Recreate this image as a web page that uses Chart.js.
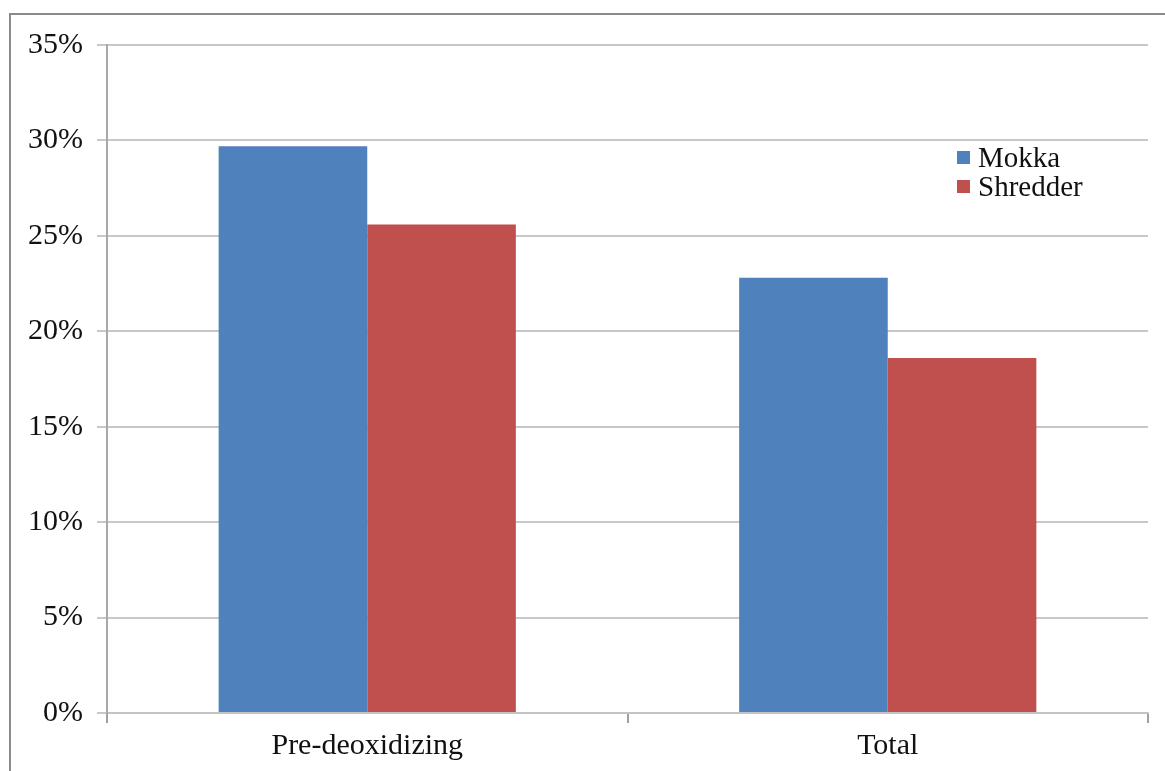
<!DOCTYPE html>
<html>
<head>
<meta charset="utf-8">
<script src="https://cdn.jsdelivr.net/npm/chart.js@4"></script>
<style>
    html, body { margin: 0; padding: 0; background: #fff; overflow: hidden; }
    #marco { position: absolute; left: 0; top: 0; width: 1165px; height: 771px; }
    #borde { position: absolute; left: 9px; top: 13px; width: 1300px; height: 900px; border: 2px solid #8a8a8a; }
    #leyenda { position: absolute; left: 957px; top: 143px; font-family: 'Liberation Serif', serif; font-size: 29px; color: #111; line-height: 29px; }
    #leyenda .item { display: flex; align-items: center; }
    #leyenda .caja { width: 13px; height: 13px; margin-right: 8px; }
</style>
</head>
<body>
<div id="marco">
    <div id="borde"></div>
    <canvas id="grafico" width="1165" height="771"></canvas>
    <div id="leyenda"></div>
</div>
<script>
const categorias = ['Pre-deoxidizing', 'Total'];
const series = ['Mokka', 'Shredder'];
const valoresMokka = [29.7, 22.8];
const valoresShredder = [25.6, 18.6];
const colores = ['#4F81BD', '#C0504D'];
const ejeY = { min: 0, max: 35, paso: 5 };

const fuente = { family: "'Liberation Serif', serif", size: 30 };

const ctx = document.getElementById('grafico').getContext('2d');
const miGrafico = new Chart(ctx, {
    type: 'bar',
    data: {
        labels: categorias,
        datasets: [
            { label: series[0], data: valoresMokka, backgroundColor: colores[0] },
            { label: series[1], data: valoresShredder, backgroundColor: colores[1] }
        ]
    },
    options: {
        responsive: false,
        animation: false,
        devicePixelRatio: 1,
        categoryPercentage: 0.571,
        barPercentage: 1,
        layout: { padding: { left: 0, top: 45, right: 17, bottom: 0 } },
        plugins: {
            legend: { display: false },
            tooltip: { enabled: false }
        },
        scales: {
            x: {
                afterFit: function(escala) { escala.height = 58; },
                grid: {
                    drawOnChartArea: false,
                    drawTicks: true,
                    tickLength: 10,
                    color: '#a0a0a0',
                    lineWidth: 2
                },
                border: { display: true, color: '#c4c4c4', width: 2 },
                ticks: { color: '#111', font: fuente, padding: 5 }
            },
            y: {
                min: ejeY.min,
                max: ejeY.max,
                afterFit: function(escala) { escala.width = 107; },
                grid: {
                    color: '#c8c8c8',
                    lineWidth: 2,
                    tickLength: 10
                },
                border: { display: true, color: '#a8a8a8', width: 2 },
                ticks: {
                    stepSize: ejeY.paso,
                    color: '#111',
                    font: fuente,
                    padding: 14,
                    callback: v => v + '%'
                }
            }
        }
    }
});

// leyenda dentro del área del gráfico
const leyenda = document.getElementById('leyenda');
series.forEach((nombre, i) => {
    const item = document.createElement('div');
    item.className = 'item';
    item.innerHTML = '<span class="caja" style="background:' + colores[i] + '"></span><span>' + nombre + '</span>';
    leyenda.appendChild(item);
});
</script>
</body>
</html>
